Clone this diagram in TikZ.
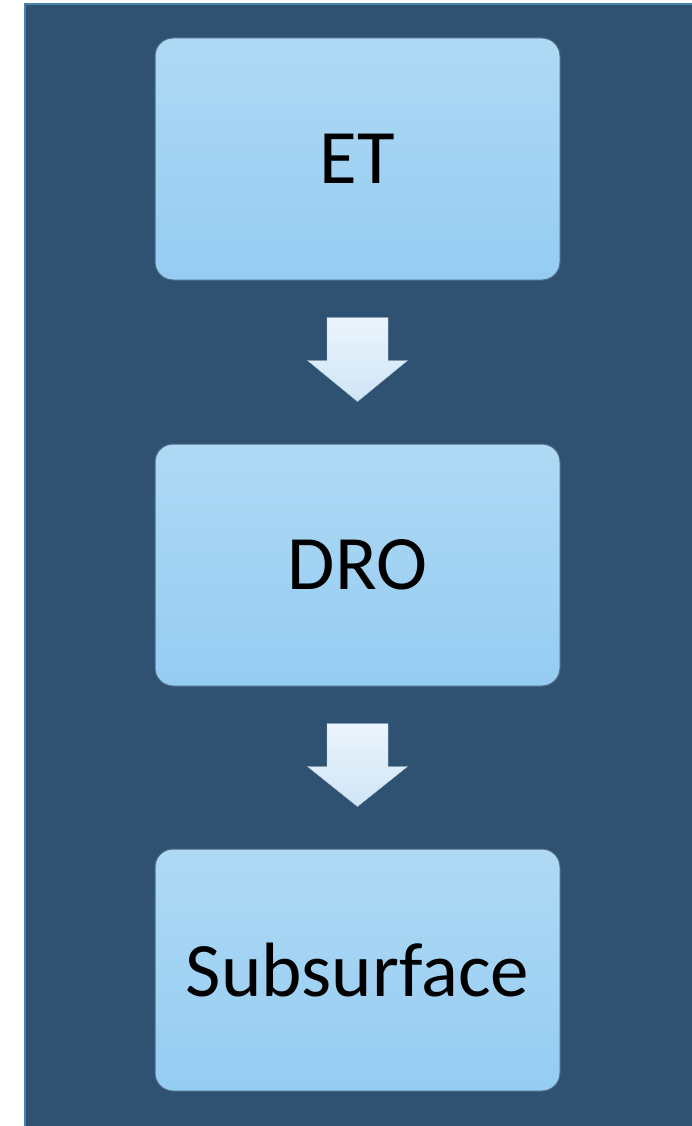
\documentclass[tikz,border=0pt]{standalone}
\usepackage{fontspec}
\setmainfont{Carlito}
\usetikzlibrary{calc}
\definecolor{bgdark}{HTML}{2F5272}
\definecolor{bgedge}{HTML}{4A82AE}
\definecolor{boxtop}{HTML}{AFD9F4}
\definecolor{boxbot}{HTML}{95CCF2}
\definecolor{boxline}{HTML}{4D6A82}
\definecolor{arrtop}{HTML}{EBF4FC}
\definecolor{arrbot}{HTML}{D0E5F6}
\tikzset{
  stagebox/.style={rectangle, rounded corners=18pt, minimum width=405pt, minimum height=242pt,
    top color=boxtop, bottom color=boxbot, draw=boxline, line width=1pt,
    font=\fontsize{77}{92}\selectfont, text=black, inner sep=0pt},
  blockarrow/.style={top color=arrtop, bottom color=arrbot, draw=arrbot!80!bgdark, line width=0.4pt}
}
\begin{document}
\begin{tikzpicture}[x=1pt,y=-1pt]
\useasboundingbox (0,0) rectangle (692,1126);
\fill[white] (0,0) rectangle (692,1126);
\filldraw[fill=bgdark, draw=bgedge, line width=2pt] (25,4) rectangle (694,1128);
\node[stagebox] (et) at (357.5,159) {ET};
\node[stagebox] (dro) at (357.5,565) {DRO};
\node[stagebox] (sub) at (357.5,970) {Subsurface};
\foreach \a/\b in {et/dro, dro/sub}{
  \path[blockarrow]
    ($(\a.south)+(-30.5,37)$) -- ($(\a.south)+(30.5,37)$) -- ($(\a.south)+(30.5,80)$)
    -- ($(\a.south)+(50,80)$) -- ($(\b.north)+(0,-42)$) -- ($(\a.south)+(-50,80)$)
    -- ($(\a.south)+(-30.5,80)$) -- cycle;
}
\end{tikzpicture}
\end{document}
